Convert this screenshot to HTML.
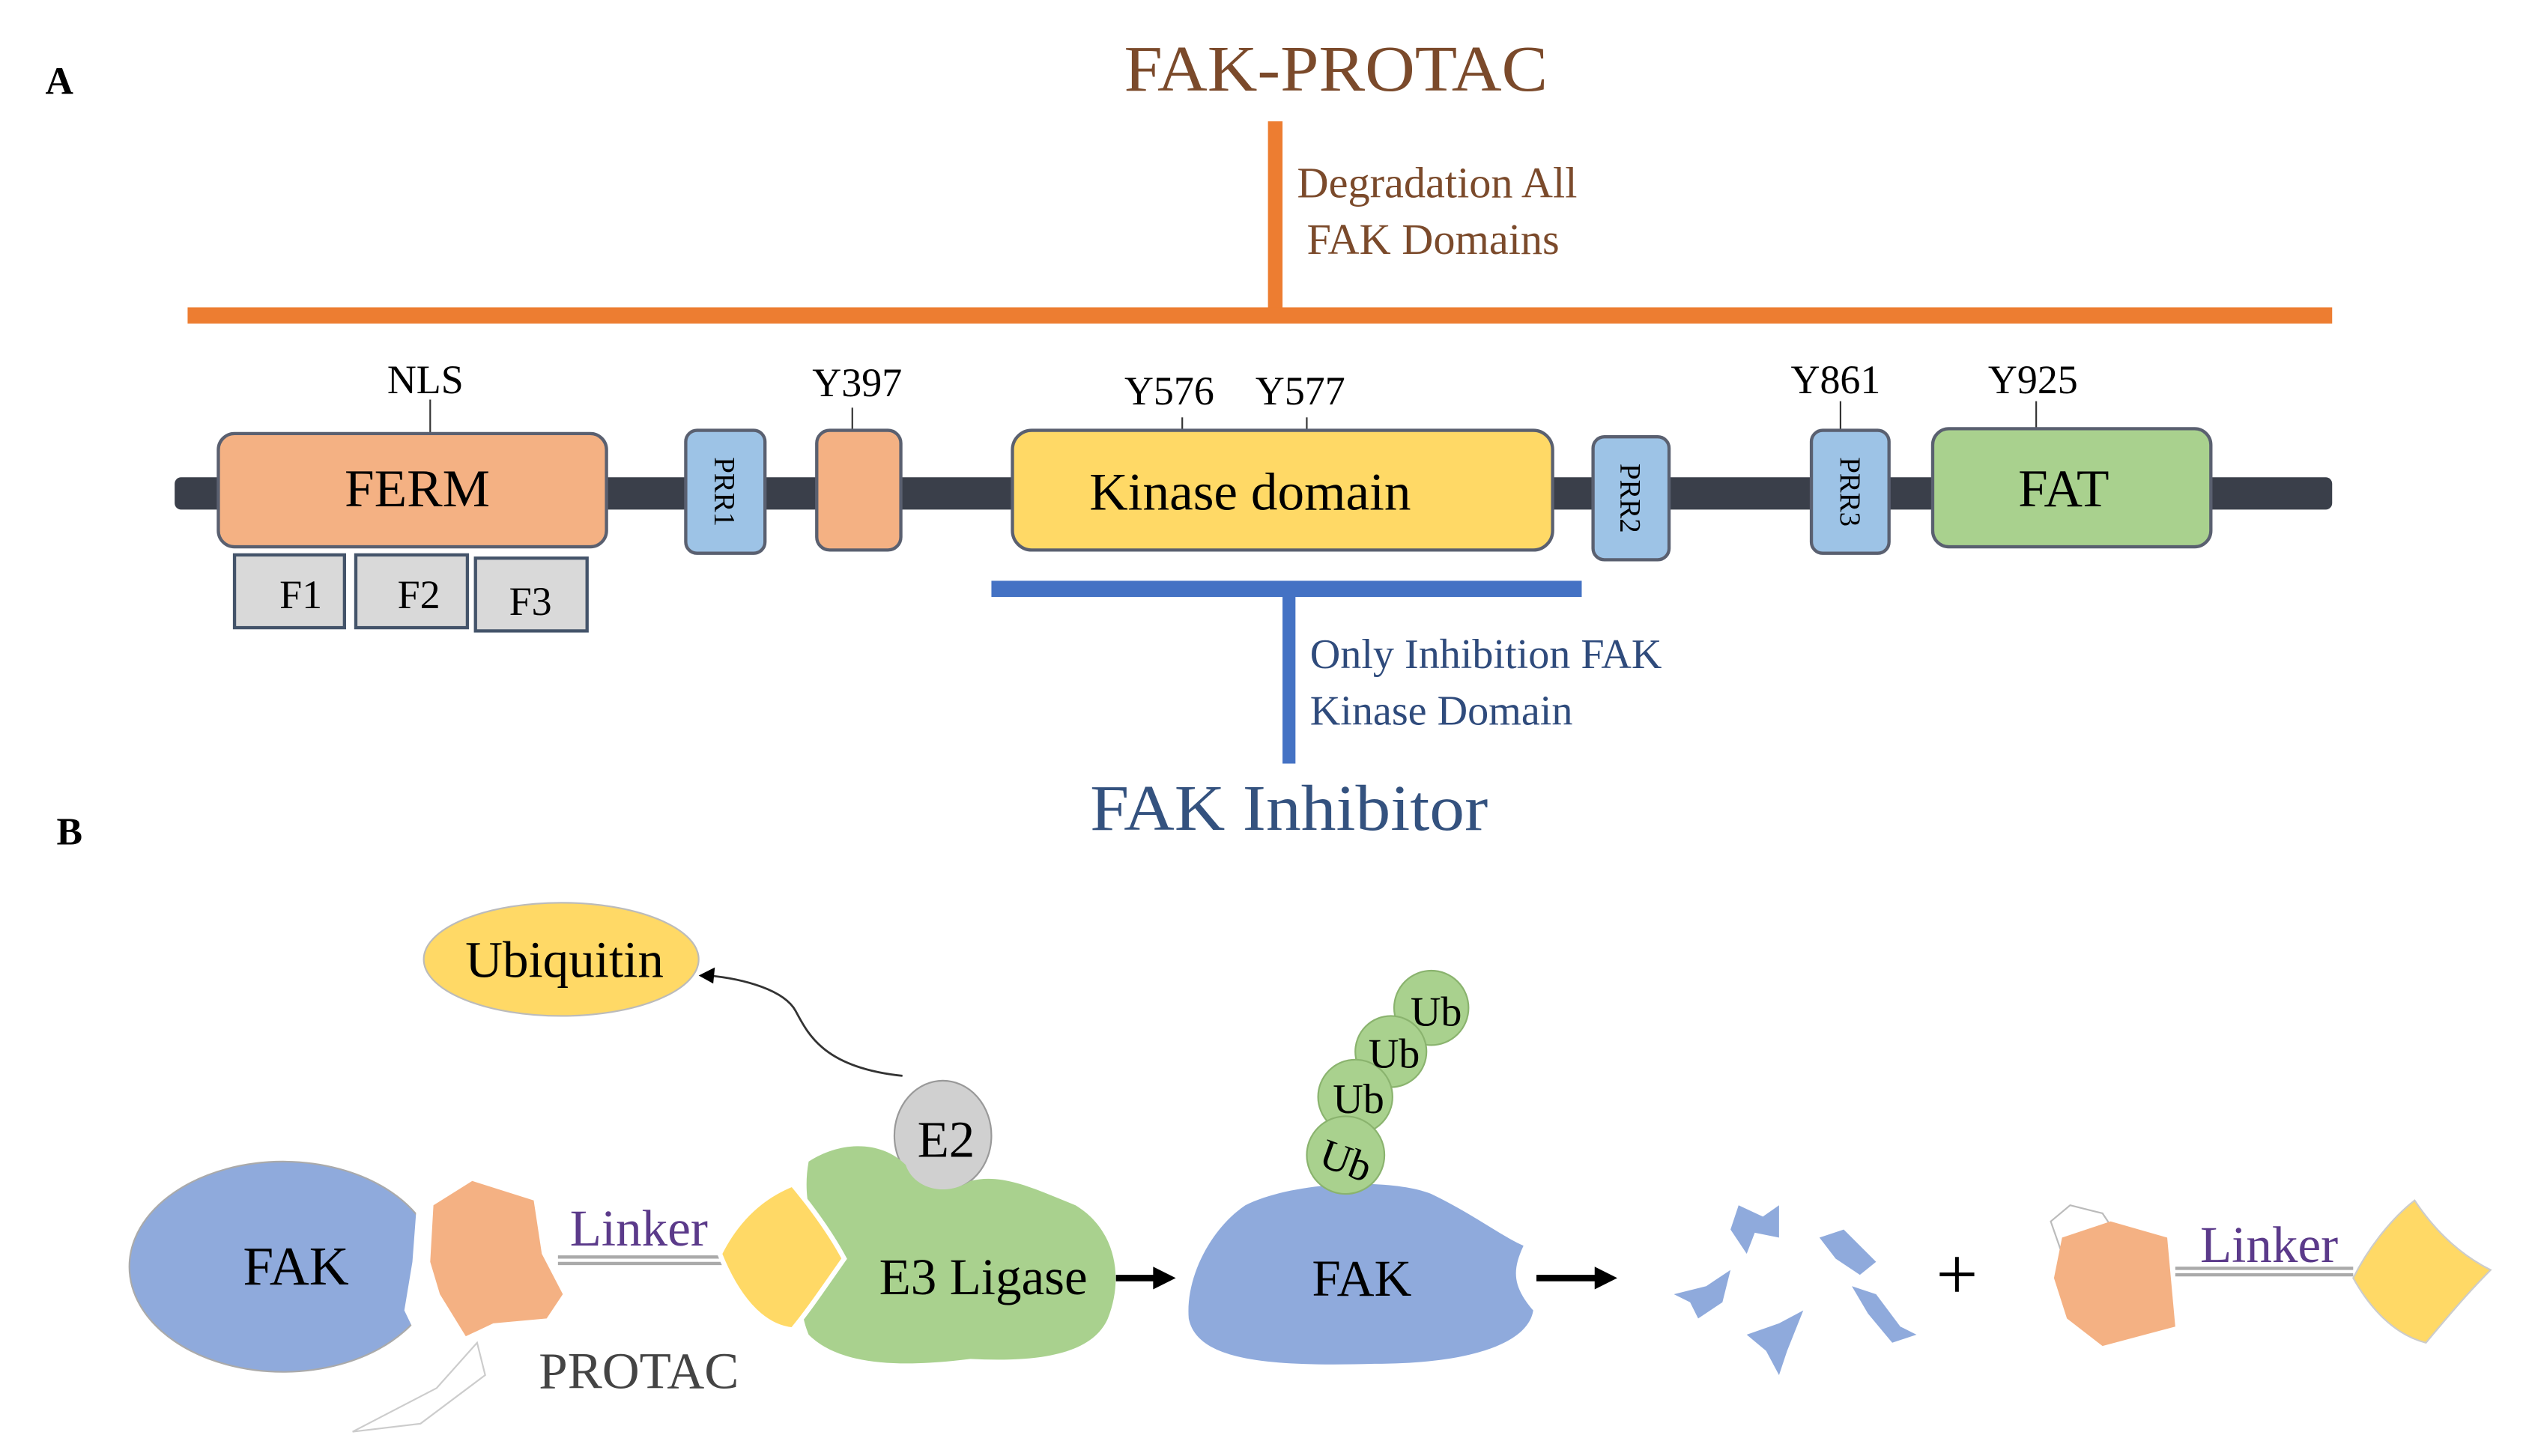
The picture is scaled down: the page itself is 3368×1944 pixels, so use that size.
<!DOCTYPE html>
<html><head><meta charset="utf-8"><style>html,body{margin:0;padding:0;background:#fff}svg{display:block}svg text{font-family:"Liberation Serif",serif}</style></head><body>
<svg width="3368" height="1944" viewBox="0 0 1560 900" preserveAspectRatio="none" xmlns="http://www.w3.org/2000/svg" style="font-family:'Liberation Serif',serif">
<rect width="1560" height="900" fill="#fff"/>
<text x="28" y="58" font-size="24" font-weight="bold">A</text>
<text x="826" y="56" font-size="40" fill="#7b4a2b" text-anchor="middle" textLength="262" lengthAdjust="spacingAndGlyphs">FAK-PROTAC</text>
<rect x="784" y="75" width="9" height="120" fill="#ed7d31"/>
<rect x="116" y="190" width="1326" height="10" fill="#ed7d31"/>
<text x="802" y="122" font-size="27" fill="#7b4a2b">Degradation  All</text>
<text x="808" y="157" font-size="27" fill="#7b4a2b">FAK Domains</text>
<rect x="108" y="295" width="1334" height="20" rx="4" fill="#3a3f4a"/>
<g stroke="#333" stroke-width="1">
<line x1="266" y1="247" x2="266" y2="268"/><line x1="527" y1="252" x2="527" y2="266"/>
<line x1="731" y1="258" x2="731" y2="266"/><line x1="808" y1="258" x2="808" y2="266"/>
<line x1="1138" y1="248" x2="1138" y2="266"/><line x1="1259" y1="248" x2="1259" y2="265"/>
</g>
<g stroke="#5a6070" stroke-width="2">
<rect x="135" y="268" width="240" height="70" rx="10" fill="#f4b183"/>
<rect x="505" y="266" width="52" height="74" rx="8" fill="#f4b183"/>
<rect x="626" y="266" width="334" height="74" rx="12" fill="#ffd966"/>
<rect x="1195" y="265" width="172" height="73" rx="10" fill="#a9d18e"/>
<rect x="424" y="266" width="49" height="76" rx="7" fill="#9dc3e6"/>
<rect x="985" y="270" width="47" height="76" rx="7" fill="#9dc3e6"/>
<rect x="1120" y="266" width="48" height="76" rx="7" fill="#9dc3e6"/>
</g>
<g stroke="#44546a" stroke-width="2" fill="#d9d9d9">
<rect x="145" y="343" width="68" height="45"/><rect x="220" y="343" width="69" height="45"/><rect x="294" y="345" width="69" height="45"/>
</g>
<g font-size="25" text-anchor="middle">
<text x="263" y="243">NLS</text><text x="530" y="245">Y397</text><text x="723" y="250">Y576</text><text x="804" y="250">Y577</text>
<text x="1135" y="243">Y861</text><text x="1257" y="243">Y925</text>
<text x="186" y="376">F1</text><text x="259" y="376">F2</text><text x="328" y="380">F3</text>
</g>
<g font-size="33" text-anchor="middle">
<text x="258" y="313">FERM</text><text x="773" y="315">Kinase domain</text><text x="1276" y="313">FAT</text>
</g>
<g font-size="18" text-anchor="middle">
<text transform="translate(448,304) rotate(90)" y="6">PRR1</text>
<text transform="translate(1008,308) rotate(90)" y="6">PRR2</text>
<text transform="translate(1144,304) rotate(90)" y="6">PRR3</text>
</g>
<rect x="613" y="359" width="365" height="10" fill="#4472c4"/>
<rect x="793" y="365" width="8" height="107" fill="#4472c4"/>
<text x="810" y="413" font-size="26" fill="#2f4b7c">Only Inhibition FAK</text>
<text x="810" y="448" font-size="26" fill="#2f4b7c">Kinase Domain</text>
<text x="797" y="513" font-size="40" fill="#34527f" text-anchor="middle" textLength="246" lengthAdjust="spacingAndGlyphs">FAK Inhibitor</text>
<text x="35" y="522" font-size="24" font-weight="bold">B</text>

<ellipse cx="347" cy="593" rx="85" ry="35" fill="#ffd966" stroke="#bbb"/>
<text x="349" y="604" font-size="32" text-anchor="middle">Ubiquitin</text>
<path d="M558 665 C510 660 500 640 492 625 C485 612 460 605 438 603" fill="none" stroke="#333" stroke-width="1.3"/>
<polygon points="432,603 442,598 441,608" fill="#000"/>
<ellipse cx="583" cy="702" rx="30" ry="34" fill="#d0d0d0" stroke="#999"/>
<text x="585" y="715" font-size="32" text-anchor="middle">E2</text>
<polygon points="218,885 270,858 295,830 300,850 260,880" fill="#fff" stroke="#ccc"/>
<ellipse cx="175" cy="783" rx="95" ry="65" fill="#8faadc" stroke="#aaa"/>
<text x="183" y="794" font-size="34" text-anchor="middle">FAK</text>
<path d="M258 740 L285 730 L275 760 L268 785 L275 810 L290 830 L262 835 L250 810 L255 780 Z" fill="#fff"/>
<path d="M268 745 L292 730 L330 742 L335 775 L348 800 L338 815 L305 818 L288 826 L272 800 L266 780 Z" fill="#f4b183"/>
<line x1="345" y1="777" x2="455" y2="777" stroke="#aaa" stroke-width="2"/>
<line x1="345" y1="781" x2="455" y2="781" stroke="#aaa" stroke-width="2"/>
<text x="395" y="770" font-size="32" fill="#5b3a8a" text-anchor="middle">Linker</text>
<text x="395" y="858" font-size="32" fill="#444" text-anchor="middle">PROTAC</text>
<path d="M500 718 C520 705 545 705 560 720 C565 735 585 740 600 730 C620 725 640 735 665 745 C690 760 695 790 685 815 C675 838 640 842 600 840 C560 845 520 845 500 825 C490 800 500 790 520 782 C505 770 495 745 500 718 Z" fill="#a9d18e"/>
<path d="M445 775 C455 755 470 740 490 732 C505 750 515 765 522 778 C510 795 500 810 490 822 C470 820 455 800 445 775 Z" fill="#ffd966" stroke="#fff" stroke-width="3"/>
<text x="608" y="800" font-size="32" text-anchor="middle">E3 Ligase</text>
<line x1="690" y1="790" x2="715" y2="790" stroke="#000" stroke-width="4"/><polygon points="713,783 727,790 713,797" fill="#000"/>
<path d="M770 745 C800 730 860 728 885 738 C910 750 930 765 942 770 C935 785 935 795 948 810 C945 830 910 843 850 843 C780 845 740 840 735 815 C733 790 748 760 770 745 Z" fill="#8faadc"/>
<text x="842" y="801" font-size="32" text-anchor="middle">FAK</text>
<g fill="#a9d18e" stroke="#8ab36e">
<circle cx="885" cy="623" r="23"/><circle cx="860" cy="650" r="22"/><circle cx="838" cy="678" r="23"/><circle cx="832" cy="714" r="24"/>
</g>
<g font-size="26" text-anchor="middle">
<text x="888" y="634">Ub</text><text x="862" y="660">Ub</text><text x="840" y="688">Ub</text>
<text transform="translate(832,718) rotate(20)" y="8">Ub</text>
</g>
<line x1="950" y1="790" x2="988" y2="790" stroke="#000" stroke-width="4"/><polygon points="986,783 1000,790 986,797" fill="#000"/>
<g fill="#8faadc">
<path d="M1075 745 L1090 752 L1100 745 L1100 765 L1085 762 L1080 775 L1070 760 Z"/>
<path d="M1125 765 L1140 760 L1160 780 L1150 788 L1135 778 Z"/>
<path d="M1035 800 L1055 795 L1070 785 L1065 805 L1050 815 L1045 805 Z"/>
<path d="M1145 795 L1160 800 L1175 820 L1185 825 L1170 830 L1155 812 Z"/>
<path d="M1080 825 L1100 818 L1115 810 L1105 835 L1100 850 L1092 835 Z"/>
</g>
<text x="1210" y="803" font-size="46" text-anchor="middle">+</text>
<path d="M1268 755 L1280 745 L1300 750 L1310 765 L1275 775 Z" fill="#fff" stroke="#bbb"/>
<path d="M1275 765 L1305 755 L1340 765 L1345 820 L1300 832 L1278 815 L1270 790 Z" fill="#f4b183"/>
<line x1="1345" y1="784" x2="1455" y2="784" stroke="#aaa" stroke-width="2"/>
<line x1="1345" y1="788" x2="1455" y2="788" stroke="#aaa" stroke-width="2"/>
<text x="1403" y="780" font-size="32" fill="#5b3a8a" text-anchor="middle">Linker</text>
<path d="M1455 790 C1465 770 1480 752 1493 742 C1505 760 1520 775 1540 785 C1525 800 1510 818 1500 830 C1480 825 1465 808 1455 790 Z" fill="#ffd966" stroke="#ccc"/>
</svg>
</body></html>
